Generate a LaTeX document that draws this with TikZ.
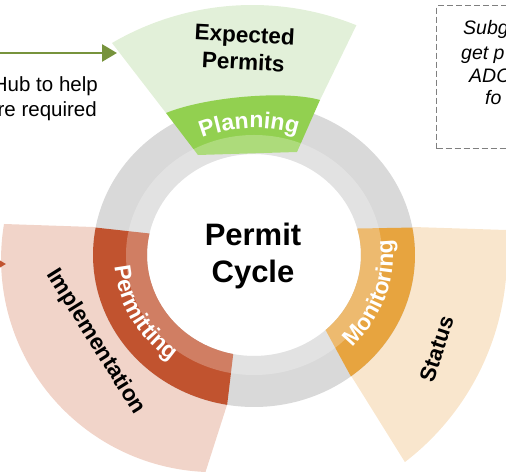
\documentclass[tikz,border=0pt]{standalone}
\usepackage{fontspec}
\setmainfont{Liberation Sans}
\usetikzlibrary{arrows.meta,decorations.text}
\definecolor{ringgray}{HTML}{D9D9D9}
\definecolor{plangreen}{HTML}{92D050}
\definecolor{planlight}{HTML}{E2F0D9}
\definecolor{permred}{HTML}{C1532F}
\definecolor{permlight}{HTML}{F1D4C9}
\definecolor{monorange}{HTML}{E7A43F}
\definecolor{monlight}{HTML}{F9E6CD}
\definecolor{arrowgreen}{HTML}{77933C}
\definecolor{boxgray}{HTML}{7F7F7F}
\newcommand{\seglbl}{\color{white}\bfseries\fontsize{23}{23}\selectfont}
\begin{document}
\begin{tikzpicture}[x=1pt,y=1pt,
  lbl/.style={font=\bfseries\fontsize{22}{27}\selectfont, text=black, inner sep=0pt},
  hubtxt/.style={font=\fontsize{20.5}{25}\selectfont, text=black, inner sep=0pt},
  notetxt/.style={font=\itshape\fontsize{19.5}{23}\selectfont, text=black, inner sep=0pt},
  conn/.style={line width=2.7pt, -{Triangle[length=15pt,width=17pt]}},
  segtext/.style={decorate, decoration={text along path, text align=center, text={|\seglbl|#1}}}]
\useasboundingbox (0,0) rectangle (506,473);
\clip (0,0) rectangle (506,473);
\coordinate (C) at (254,218);
% petals
\fill[planlight] (112,430) arc[start angle=120.3,end angle=68,radius=278pt] -- (320,373) -- (166,360) -- cycle;
\fill[permlight] (4,249) arc[start angle=170.5,end angle=267.7,radius=213pt] -- (227,68)
  -- ([shift={(260:140pt and 132pt)}]C) arc[start angle=260,end angle=169,x radius=140pt,y radius=132pt] -- (93,246) -- cycle;
\fill[monlight] (413,246) -- (505.8,243) arc[start angle=5.5,end angle=-52.5,radius=261pt] -- (355,91)
  -- ([shift={(-52:140pt and 132pt)}]C) arc[start angle=-52,end angle=10,x radius=140pt,y radius=132pt] -- cycle;
% arrows
\coordinate (ga0) at (-10,420);
\coordinate (ga1) at (117,420);
\draw[conn, arrowgreen] (ga0) -- (ga1);
\coordinate (ra0) at (-40,209);
\coordinate (ra1) at (6,209);
\draw[conn, permred] (ra0) -- (ra1);
% ring
\fill[ringgray, even odd rule] (C) ellipse[x radius=161pt,y radius=152pt] (C) ellipse[x radius=107pt,y radius=101pt];
% segments
\fill[permred] ([shift={(169.6:161pt and 152pt)}]C) arc[start angle=169.6,end angle=260.4,x radius=161pt,y radius=152pt]
  -- ([shift={(258.8:107pt and 101pt)}]C) arc[start angle=258.8,end angle=167.7,x radius=107pt,y radius=101pt] -- cycle;
\fill[monorange] ([shift={(-53:161pt and 152pt)}]C) arc[start angle=-53,end angle=10.4,x radius=161pt,y radius=152pt]
  -- ([shift={(15.2:107pt and 101pt)}]C) arc[start angle=15.2,end angle=-48,x radius=107pt,y radius=101pt] -- cycle;
\fill[plangreen] (166,360) .. controls (205,376) and (285,383) .. (320,373) -- (297,321) -- (198,318) -- cycle;
% lighter inner band
\fill[white, opacity=0.25, even odd rule] (C) ellipse[x radius=128pt,y radius=120pt] (C) ellipse[x radius=107pt,y radius=101pt];
% curved segment labels
\path[segtext=Planning] ([shift={(140:134pt and 127pt)}]C) arc[start angle=140,end angle=44.2,x radius=134pt,y radius=127pt];
\path[segtext=Permitting] ([shift={(160:140pt and 132pt)}]C) arc[start angle=160,end angle=257.2,x radius=140pt,y radius=132pt];
\path[segtext=Monitoring] ([shift={(-65:139pt and 131pt)}]C) arc[start angle=-65,end angle=27.5,x radius=139pt,y radius=131pt];
% labels
\node[lbl, font=\bfseries\fontsize{31}{37}\selectfont, align=center] (pc) at (253,217.5) {Permit\\Cycle};
\node[lbl, font=\bfseries\fontsize{22.5}{27}\selectfont, align=center, rotate=-3] (ep) at (244,425) {Expected\\Permits};
\node[lbl, font=\bfseries\fontsize{22.5}{27}\selectfont, rotate=-58] (impl) at (95.5,131) {Implementation};
\node[lbl, rotate=72] (st) at (436.5,124) {Status};
% left text
\node[hubtxt, anchor=base east] (hub1) at (98,381) {Hub to help};
\node[hubtxt, anchor=base east] (hub2) at (97,356) {re required};
% dashed note
\node[draw=boxgray, line width=1.3pt, dash pattern=on 6pt off 3pt, anchor=north west, minimum width=94pt, minimum height=143pt, inner sep=0pt] (note) at (436,468) {};
\node[notetxt, anchor=base west] (n1) at (463,438) {Subg};
\node[notetxt, anchor=base west] (n2) at (461,413) {get p};
\node[notetxt, anchor=base west] (n3) at (469,390) {ADC};
\node[notetxt, anchor=base west] (n4) at (485,368) {fo};
\end{tikzpicture}
\end{document}
